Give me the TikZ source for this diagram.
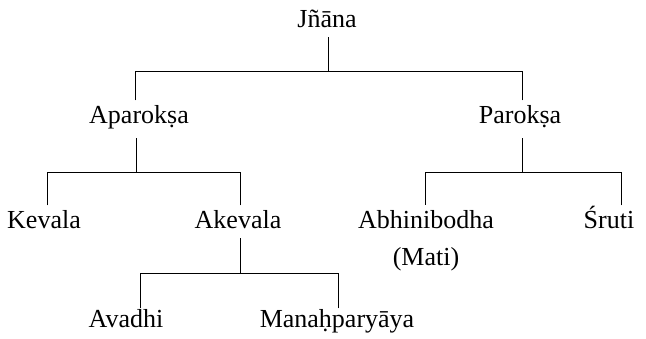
\documentclass[tikz,border=0pt]{standalone}
\usepackage{fontspec}
\setmainfont{Liberation Serif}
\begin{document}
\begin{tikzpicture}[x=1pt,y=-1pt,
  term/.style={inner sep=0pt, anchor=base, font=\fontsize{26}{37}\selectfont},
  link/.style={line width=0.8pt, line cap=rect}]
\useasboundingbox (0,0) rectangle (646,338);

% terms (a two-line node is anchored at the baseline of its last line)
\node[term] (jnana)  at (327,27)  {Jñāna};
\node[term] (apar)   at (139,123) {Aparokṣa};
\node[term] (par)    at (520,123) {Parokṣa};
\node[term] (kev)    at (44,228)  {Kevala};
\node[term] (akev)   at (238,228) {Akevala};
\node[term, align=center] (abhi) at (426,265) {Abhinibodha\\(Mati)};
\node[term] (sruti)  at (609,228) {Śruti};
\node[term] (avadhi) at (126,327) {Avadhi};
\node[term] (manah)  at (337,327) {Manaḥparyāya};

% junction points on the bars
\coordinate (jn)  at (328,71);
\coordinate (jnL) at (135,71);
\coordinate (jnR) at (522,71);
\coordinate (ap)  at (136,172);
\coordinate (apL) at (47,172);
\coordinate (apR) at (240,172);
\coordinate (pa)  at (522,172);
\coordinate (paL) at (425,172);
\coordinate (paR) at (621,172);
\coordinate (ak)  at (240,273);
\coordinate (akL) at (140,273);
\coordinate (akR) at (338,273);

% Jñāna
\draw[link, shorten <=10pt] (jnana.base -| jn) -- (jn);
\draw[link] (jnL) -- (jnR);
\draw[link, shorten >=23pt] (jnL) -- (apar.base -| jnL);
\draw[link, shorten >=23pt] (jnR) -- (par.base -| jnR);

% Aparokṣa
\draw[link, shorten <=15pt] (apar.base -| ap) -- (ap);
\draw[link] (apL) -- (apR);
\draw[link, shorten >=23pt] (apL) -- (kev.base -| apL);
\draw[link, shorten >=23pt] (apR) -- (akev.base -| apR);

% Parokṣa
\draw[link, shorten <=15pt] (par.base -| pa) -- (pa);
\draw[link] (paL) -- (paR);
\draw[link, shorten >=5pt] (paL) -- (abhi.north -| paL);
\draw[link, shorten >=23pt] (paR) -- (sruti.base -| paR);

% Akevala
\draw[link, shorten <=10pt] (akev.base -| ak) -- (ak);
\draw[link] (akL) -- (akR);
\draw[link, shorten >=19pt] (akL) -- (avadhi.base -| akL);
\draw[link, shorten >=19pt] (akR) -- (manah.base -| akR);
\end{tikzpicture}
\end{document}
